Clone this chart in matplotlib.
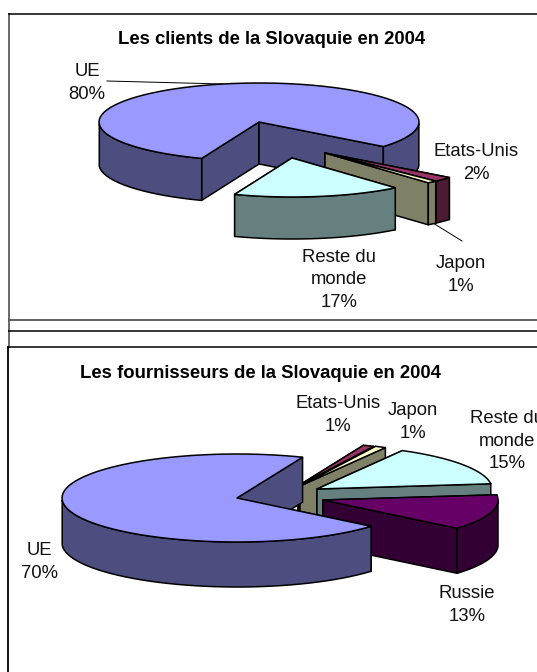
import numpy as np
import matplotlib
matplotlib.use('Agg')
import matplotlib.pyplot as plt
from matplotlib.patches import Polygon

plt.rcParams['font.family'] = ['Liberation Sans', 'DejaVu Sans']

# Data
clients_title = 'Les clients de la Slovaquie en 2004'
clients_names = ['UE', 'Etats-Unis', 'Japon', 'Reste du\nmonde']
clients_values = [80, 2, 1, 17]

fourn_title = 'Les fournisseurs de la Slovaquie en 2004'
fourn_names = ['UE', 'Etats-Unis', 'Japon', 'Reste du\nmonde', 'Russie']
fourn_values = [70, 1, 1, 15, 13]

# top colour, wall colour for each country
colors = {
    'UE': ('#9999ff', '#4d4d80'),
    'Etats-Unis': ('#993366', '#4d1a33'),
    'Japon': ('#ffffcc', '#808066'),
    'Reste du\nmonde': ('#ccffff', '#668080'),
    'Russie': ('#660066', '#330033'),
}

W, H = 537, 672
fig = plt.figure(figsize=(W / 100, H / 100), dpi=100)
ax = fig.add_axes([0, 0, 1, 1])
ax.set_xlim(0, W)
ax.set_ylim(H, 0)  # pixel coords, y down
ax.axis('off')


def draw_slice(cx, cy, rx, ry, depth, a0, a1, top, wall, z):
    t = np.radians(np.linspace(a0, a1, 80))
    xs = cx + rx * np.cos(t)
    ys = cy + ry * np.sin(t)
    kw = dict(edgecolor='black', lw=1.1, joinstyle='round', zorder=z)
    # the two cut faces
    for x, y in [(xs[0], ys[0]), (xs[-1], ys[-1])]:
        ax.add_patch(Polygon([(cx, cy), (x, y), (x, y + depth), (cx, cy + depth)],
                             facecolor=wall, **kw))
    # outer wall, only the part turned to the viewer
    front = np.sin(t) > 0
    idx = np.where(front)[0]
    if len(idx):
        groups = np.split(idx, np.where(np.diff(idx) > 1)[0] + 1)
        for g in groups:
            pts = list(zip(xs[g], ys[g])) + list(zip(xs[g][::-1], ys[g][::-1] + depth))
            ax.add_patch(Polygon(pts, facecolor=wall, **kw))
    # top
    pts = [(cx, cy)] + list(zip(xs, ys))
    ax.add_patch(Polygon(pts, facecolor=top, **kw))


def draw_pie(names, values, start, cx, cy, rx, ry, depth, offsets, order):
    angles = {}
    a = start
    for n, v in zip(names, values):
        angles[n] = (a, a + v * 3.6)
        a += v * 3.6
    for z, n in enumerate(order):
        dx, dy = offsets.get(n, (0, 0))
        draw_slice(cx + dx, cy + dy, rx, ry, depth, angles[n][0], angles[n][1],
                   colors[n][0], colors[n][1], 3 + z)


def pct_label(x, y, name, value):
    ax.text(x, y, f'{name}\n{value}%', ha='center', va='center', fontsize=13.3,
            linespacing=1.42, color='#111111', zorder=20, clip_on=False)


# frames
def hline(y, x0=8, x1=W, c='black', lw=1.1):
    ax.plot([x0, x1], [y, y], color=c, lw=lw, zorder=1, solid_capstyle='butt')


ax.plot([8.5, 8.5], [14, 347], color='#404040', lw=1.1, zorder=1)
ax.plot([7.5, 7.5], [347, H], color='black', lw=1.3, zorder=1)
hline(14)
hline(320, c='#555555', lw=1.3)
hline(331)
hline(347, x0=7)

# upper chart
ax.text(272, 40, clients_title, ha='center', va='center', fontsize=13.3,
        fontweight='bold', zorder=20)
draw_pie(clients_names, clients_values, 111, 259, 122, 160, 39, 42,
         {'Etats-Unis': (66, 31), 'Japon': (66, 31), 'Reste du\nmonde': (33, 36)},
         ['UE', 'Etats-Unis', 'Japon', 'Reste du\nmonde'])
pct_label(87, 83, clients_names[0], clients_values[0])
pct_label(476, 163, clients_names[1], clients_values[1])
pct_label(461, 275, clients_names[2], clients_values[2])
pct_label(339, 280, 'Reste du\nmonde', clients_values[3])
ax.plot([107, 223], [81, 84], color='black', lw=0.7, zorder=2)
ax.plot([433, 462], [223, 241], color='black', lw=0.7, zorder=2)

# lower chart
ax.text(260, 374, fourn_title, ha='center', va='center', fontsize=13.3,
        fontweight='bold', zorder=20)
draw_pie(fourn_names, fourn_values, 40, 237, 498, 175, 44, 45,
         {'Etats-Unis': (61, -12), 'Japon': (63, -12), 'Reste du\nmonde': (80, -9),
          'Russie': (86, 2)},
         ['Etats-Unis', 'Japon', 'Reste du\nmonde', 'Russie', 'UE'])
pct_label(338, 415, fourn_names[1], fourn_values[1])
pct_label(413, 422, fourn_names[2], fourn_values[2])
pct_label(507, 441, 'Reste du\nmonde', fourn_values[3])
pct_label(467, 605, fourn_names[4], fourn_values[4])
pct_label(39, 562, fourn_names[0], fourn_values[0])

fig.savefig('out.png', dpi=100)
